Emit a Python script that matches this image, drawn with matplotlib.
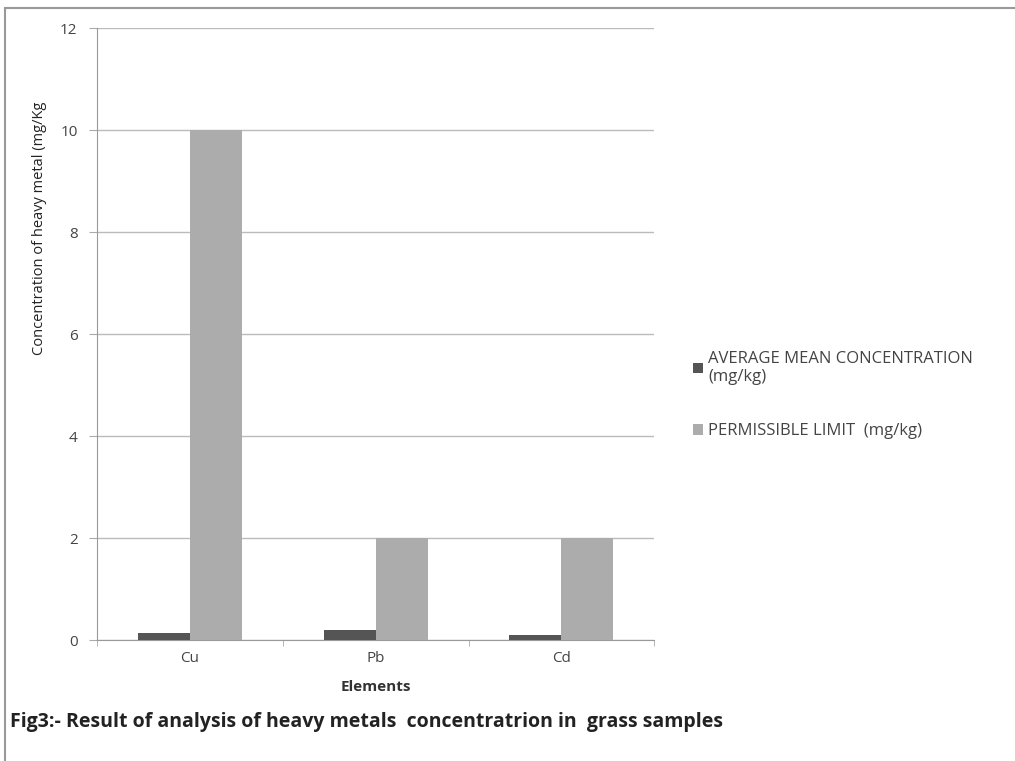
import matplotlib
matplotlib.use("Agg")
import matplotlib.pyplot as plt
import numpy as np
from matplotlib.patches import Rectangle

elements = ["Cu", "Pb", "Cd"]
avg_mean = [0.14, 0.2, 0.1]
permissible = [10, 2, 2]
y_ticks = [0, 2, 4, 6, 8, 10, 12]

plt.rcParams['font.family'] = ['Open Sans', 'DejaVu Sans']

fig = plt.figure(figsize=(10.15, 7.61), dpi=100)
ax = fig.add_axes([0.0956, 0.159, 0.549, 0.804])

x = np.arange(len(elements))
w = 0.28
ax.bar(x - w / 2, avg_mean, w, color="#555555", label="AVERAGE MEAN CONCENTRATION\n(mg/kg)", zorder=3)
ax.bar(x + w / 2, permissible, w, color="#acacac", label="PERMISSIBLE LIMIT  (mg/kg)", zorder=3)

ax.set_xlim(-0.5, 2.5)
ax.set_ylim(0, 12)
ax.set_yticks(y_ticks)
ax.set_yticklabels([str(v) for v in y_ticks], fontsize=11, color="#444444")
ax.set_xticks(x)
ax.set_xticklabels(elements, fontsize=11, color="#444444")
ax.tick_params(axis="x", length=0, pad=8)
ax.tick_params(axis="y", length=6, color="#aaaaaa", pad=8)
ax.set_xticks([-0.5, 0.5, 1.5, 2.5], minor=True)
ax.tick_params(axis="x", which="minor", length=4, color="#aaaaaa")
ax.grid(axis="y", color="#bbbbbb", linewidth=1, zorder=0)
for s in ["top", "right"]:
    ax.spines[s].set_visible(False)
ax.spines["left"].set_color("#999999")
ax.spines["bottom"].set_color("#999999")

ax.set_xlabel("Elements", fontsize=11, fontweight="bold", color="#333333", labelpad=10)
fig.text(0.039, 0.70, "Concentration of heavy metal (mg/Kg", rotation=90,
         fontsize=10.5, color="#222222", ha="center", va="center")

fig.legend(loc="upper left", bbox_to_anchor=(0.668, 0.559), frameon=False,
           fontsize=12, handlelength=0.6, handleheight=0.6, handletextpad=0.3,
           labelspacing=2.3, labelcolor="#444444")

fig.text(0.01, 0.051, "Fig3:- Result of analysis of heavy metals  concentratrion in  grass samples",
         fontsize=14, fontweight="bold", color="#222222", ha="left", va="center")

fig.patches.append(Rectangle((0.005, -0.01), 1.2, 1.0, transform=fig.transFigure,
                             fill=False, edgecolor="#999999", linewidth=1.5))

fig.savefig("out.png", dpi=100)
